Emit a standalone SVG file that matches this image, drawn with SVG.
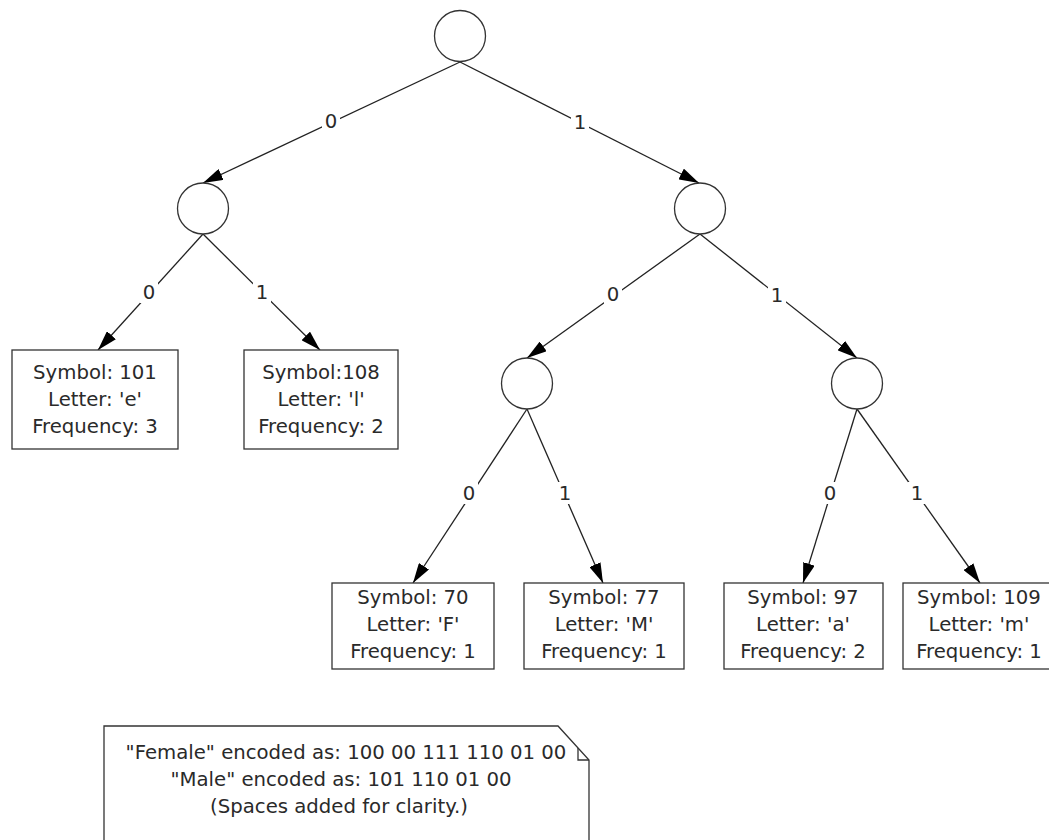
<svg xmlns="http://www.w3.org/2000/svg" width="1049" height="840" viewBox="0 0 1049 840">
<style>
.n{fill:#fff;stroke:#333;stroke-width:1.3}
.b{fill:#fff;stroke:#333;stroke-width:1.3}
.e{fill:none;stroke:#222;stroke-width:1.3;marker-end:url(#ah)}
.t{font-family:"DejaVu Sans",Verdana,sans-serif;font-size:19.7px;fill:#2a2a2a;text-anchor:middle}
.lb{fill:#fff}
</style>
<defs>
<marker id="ah" viewBox="0 0 20 12" refX="20" refY="6" markerWidth="20" markerHeight="12" markerUnits="userSpaceOnUse" orient="auto">
<path d="M0,0 L20,6 L0,12 Z" fill="#000"/>
</marker>
</defs>
<g id="connectors">
<line class="e" x1="460" y1="62" x2="203" y2="183"/>
<line class="e" x1="460" y1="62" x2="699" y2="183"/>
<line class="e" x1="203" y1="234" x2="98" y2="350"/>
<line class="e" x1="203" y1="234" x2="320" y2="350"/>
<line class="e" x1="700" y1="234" x2="527" y2="358"/>
<line class="e" x1="700" y1="234" x2="857" y2="358"/>
<line class="e" x1="527" y1="409" x2="413" y2="583"/>
<line class="e" x1="527" y1="409" x2="603" y2="583"/>
<line class="e" x1="857" y1="409" x2="803" y2="583"/>
<line class="e" x1="857" y1="409" x2="980" y2="583"/>
<rect class="lb" x="322" y="110" width="18" height="22"/>
<text class="t" x="331" y="128">0</text>
<rect class="lb" x="571" y="111" width="18" height="22"/>
<text class="t" x="580" y="129">1</text>
<rect class="lb" x="140" y="281" width="18" height="22"/>
<text class="t" x="149" y="299">0</text>
<rect class="lb" x="253" y="281" width="18" height="22"/>
<text class="t" x="262" y="299">1</text>
<rect class="lb" x="604" y="283" width="18" height="22"/>
<text class="t" x="613" y="301">0</text>
<rect class="lb" x="768" y="284" width="18" height="22"/>
<text class="t" x="777" y="302">1</text>
<rect class="lb" x="460" y="482" width="18" height="22"/>
<text class="t" x="469" y="500">0</text>
<rect class="lb" x="556" y="482" width="18" height="22"/>
<text class="t" x="565" y="500">1</text>
<rect class="lb" x="821" y="482" width="18" height="22"/>
<text class="t" x="830" y="500">0</text>
<rect class="lb" x="908" y="482" width="18" height="22"/>
<text class="t" x="917" y="500">1</text>
</g>
<g id="root"><circle class="n" cx="460" cy="36" r="25.5"/></g>
<g id="n0"><circle class="n" cx="203" cy="208.5" r="25.5"/></g>
<g id="n1"><circle class="n" cx="700" cy="208.5" r="25.5"/></g>
<g id="n10"><circle class="n" cx="527" cy="383.5" r="25.5"/></g>
<g id="n11"><circle class="n" cx="857" cy="383.5" r="25.5"/></g>
<g id="leaf-e">
<rect class="b" x="12" y="350" width="166" height="99"/>
<text class="t" x="95" y="379">Symbol: 101</text>
<text class="t" x="95" y="406">Letter: 'e'</text>
<text class="t" x="95" y="433">Frequency: 3</text>
</g>
<g id="leaf-l">
<rect class="b" x="244" y="350" width="154" height="99"/>
<text class="t" x="321" y="379">Symbol:108</text>
<text class="t" x="321" y="406">Letter: 'l'</text>
<text class="t" x="321" y="433">Frequency: 2</text>
</g>
<g id="leaf-F">
<rect class="b" x="332" y="583" width="162" height="86"/>
<text class="t" x="413" y="604">Symbol: 70</text>
<text class="t" x="413" y="631">Letter: 'F'</text>
<text class="t" x="413" y="658">Frequency: 1</text>
</g>
<g id="leaf-M">
<rect class="b" x="524" y="583" width="160" height="86"/>
<text class="t" x="604" y="604">Symbol: 77</text>
<text class="t" x="604" y="631">Letter: 'M'</text>
<text class="t" x="604" y="658">Frequency: 1</text>
</g>
<g id="leaf-a">
<rect class="b" x="724" y="583" width="159" height="86"/>
<text class="t" x="803" y="604">Symbol: 97</text>
<text class="t" x="803" y="631">Letter: 'a'</text>
<text class="t" x="803" y="658">Frequency: 2</text>
</g>
<g id="leaf-m">
<rect class="b" x="903" y="583" width="155" height="86"/>
<text class="t" x="979" y="604">Symbol: 109</text>
<text class="t" x="979" y="631">Letter: 'm'</text>
<text class="t" x="979" y="658">Frequency: 1</text>
</g>
<g id="note">
<path class="b" d="M104,726 H558 L589,760 V860 H104 Z"/>
<path d="M578,748 V760 H589" fill="none" stroke="#333" stroke-width="1.3"/>
<text class="t" x="346" y="759">"Female" encoded as: 100 00 111 110 01 00</text>
<text class="t" x="341" y="786">"Male" encoded as: 101 110 01 00</text>
<text class="t" x="339" y="813">(Spaces added for clarity.)</text>
</g>
</svg>
